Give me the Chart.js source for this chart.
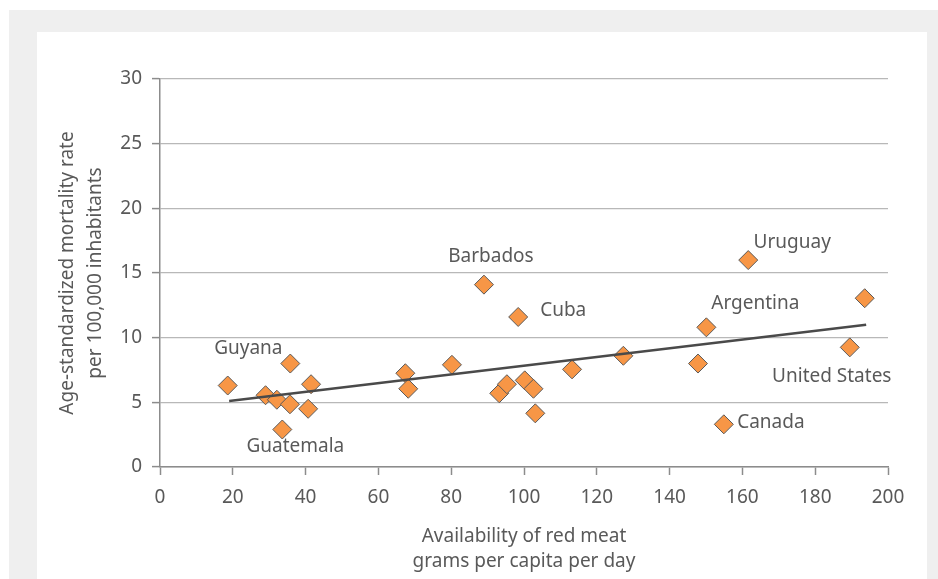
<!DOCTYPE html>
<html>
<head>
<meta charset="utf-8">
<script src="https://cdn.jsdelivr.net/npm/chart.js@4/dist/chart.umd.min.js"></script>
<style>
  body { margin: 0; background: #fff; }
  #outer { position: absolute; left: 9px; top: 10px; right: 0; bottom: 0; background: #efefef; }
  #panel { position: absolute; left: 37px; top: 32px; width: 890px; height: 547px; background: #fff; }
</style>
</head>
<body>
<div id="outer"></div>
<div id="panel"><canvas id="meatChart"></canvas></div>
<script>
// Red meat vs mortality, one point per country
const meat = [18.6, 29.0, 32.1, 35.8, 35.7, 33.6, 41.5, 40.7, 67.4, 68.2, 80.2, 93.2, 95.3,
  100.2, 102.6, 103.1, 89.0, 98.4, 113.2, 127.3, 150.1, 147.8, 161.6, 154.9, 189.5, 193.6];
const mortality = [6.3, 5.55, 5.2, 8.0, 4.85, 2.9, 6.4, 4.5, 7.25, 6.05, 7.9, 5.7, 6.4,
  6.7, 6.05, 4.15, 14.1, 11.6, 7.55, 8.6, 10.8, 8.0, 16.0, 3.3, 9.25, 13.05];
const countries = ['', '', '', 'Guyana', '', 'Guatemala', '', '', '', '', '', '', '',
  '', '', '', 'Barbados', 'Cuba', '', '', 'Argentina', '', 'Uruguay', 'Canada', 'United States', ''];

// trend line
const trendX = [19, 194];
const trendY = [5.1, 11.0];

const xTicks = [0, 20, 40, 60, 80, 100, 120, 140, 160, 180, 200];
const yTicks = [0, 5, 10, 15, 20, 25, 30];

const FONT = '"Noto Sans", sans-serif';
const SIZE = 19;
const TEXT = '#595959';

// where each country name sits around its diamond (centre of the text)
const labelPos = {
  'Guyana': { dx: -42, dy: -15 },
  'Guatemala': { dx: 13, dy: 17 },
  'Barbados': { dx: 7, dy: -28 },
  'Cuba': { dx: 45, dy: -6 },
  'Argentina': { dx: 49, dy: -24 },
  'Uruguay': { dx: 44, dy: -17 },
  'Canada': { dx: 47, dy: -2 },
  'United States': { dx: -18, dy: 29 }
};

const countryLabels = {
  id: 'countryLabels',
  afterDatasetsDraw(chart) {
    const ctx = chart.ctx;
    const meta = chart.getDatasetMeta(1);
    ctx.save();
    ctx.font = SIZE + 'px ' + FONT;
    ctx.fillStyle = TEXT;
    ctx.textAlign = 'center';
    ctx.textBaseline = 'middle';
    countries.forEach((name, i) => {
      if (!name) return;
      const pt = meta.data[i];
      const p = labelPos[name];
      ctx.fillText(name, pt.x + p.dx, pt.y + p.dy);
    });
    ctx.restore();
  }
};

const ctx = document.getElementById('meatChart').getContext('2d');
new Chart(ctx, {
  type: 'scatter',
  data: {
    datasets: [{
      label: 'Trend',
      data: trendX.map((x, i) => ({ x, y: trendY[i] })),
      showLine: true,
      borderColor: '#4a4a4a',
      borderWidth: 2.5,
      pointRadius: 0,
      order: 0
    }, {
      label: 'Countries',
      data: meat.map((x, i) => ({ x, y: mortality[i] })),
      pointStyle: 'rectRot',
      pointRadius: 9.5,
      backgroundColor: '#f79646',
      borderColor: '#5a5a5a',
      borderWidth: 1,
      order: 1
    }]
  },
  options: {
    responsive: true,
    maintainAspectRatio: false,
    animation: false,
    layout: { padding: { top: 47, right: 39, left: 0, bottom: 0 } },
    plugins: { legend: { display: false }, tooltip: { enabled: false } },
    scales: {
      x: {
        type: 'linear',
        min: 0, max: 200,
        afterFit: (s) => { s.height = 112; },
        afterBuildTicks: (s) => { s.ticks = xTicks.map(v => ({ value: v })); },
        grid: { drawOnChartArea: false, drawTicks: true, tickLength: 8, tickColor: '#8c8c8c', tickWidth: 1.5 },
        border: { color: '#8c8c8c', width: 1.5 },
        ticks: { color: TEXT, font: { family: FONT, size: SIZE }, padding: 11.5, maxRotation: 0 },
        title: {
          display: true,
          text: ['Availability of red meat', 'grams per capita per day'],
          color: TEXT,
          font: { family: FONT, size: SIZE, lineHeight: 1.32 },
          padding: { top: 0, bottom: 4.5 }
        }
      },
      y: {
        min: 0, max: 30,
        afterFit: (s) => { s.width = 123; },
        afterBuildTicks: (s) => { s.ticks = yTicks.map(v => ({ value: v })); },
        grid: { color: '#b8b8b8', lineWidth: 1.2, drawTicks: true, tickLength: 8, tickColor: '#8c8c8c', tickWidth: 1.5 },
        border: { color: '#8c8c8c', width: 1.5 },
        ticks: { color: TEXT, font: { family: FONT, size: SIZE }, padding: 10 },
        title: {
          display: true,
          text: ['Age-standardized mortality rate', 'per 100,000 inhabitants'],
          color: TEXT,
          font: { family: FONT, size: SIZE, lineHeight: 1.45 },
          padding: { top: 17.25, bottom: 0 }
        }
      }
    }
  },
  plugins: [countryLabels]
});
</script>
</body>
</html>
